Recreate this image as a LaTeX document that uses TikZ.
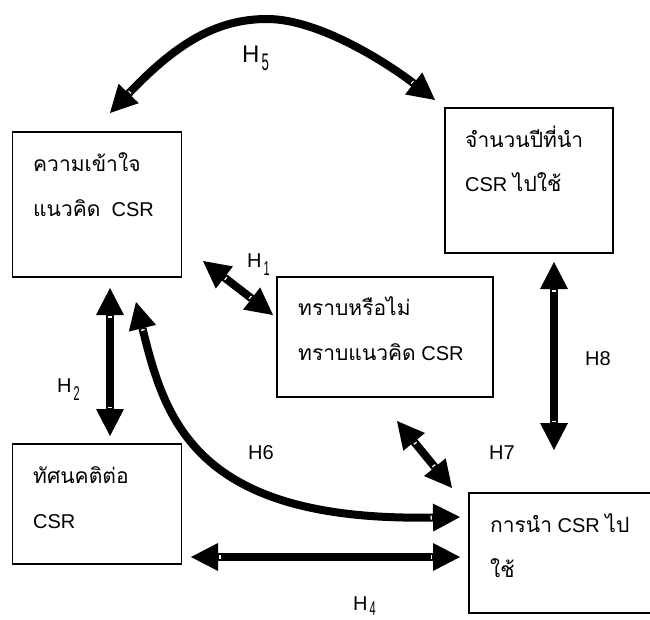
\documentclass[tikz,border=0pt]{standalone}
\usepackage{fontspec}
\usepackage{graphicx}
\setmainfont{Liberation Sans}
\newfontfamily\thaifont[Script=Thai,Scale=1.05]{Loma}
\usetikzlibrary{arrows.meta}
\newcommand\thaitxt[1]{{\thaifont #1}}
\newcommand\Hsub[3][8pt]{H\kern2pt\raisebox{-#1}{\scalebox{0.55}[1]{#3}}}
\tikzset{
  box/.style={draw, line width=1.5pt, inner sep=0pt},
  txt/.style={anchor=base west, inner sep=0pt, font=\fontsize{20}{24}\selectfont},
  hlab/.style={anchor=base west, inner sep=0pt, font=\fontsize{20}{24}\selectfont},
  arr/.style={line width=8pt,
    {Triangle[length=27pt,width=28pt,sep=0pt,line width=0pt]Rectangle[length=3.5pt,width=6pt,fill=white,sep=0pt,line width=1pt]}-{Rectangle[length=3.5pt,width=6pt,fill=white,sep=0pt,line width=1pt]Triangle[length=27pt,width=28pt,sep=0pt,line width=0pt]}},
}
\begin{document}
\begin{tikzpicture}[x=1pt,y=-1pt]
\useasboundingbox (0,0) rectangle (650,620);
% boxes
\node[box, minimum width=169pt, minimum height=145pt] (A) at (97.2,204.5) {};
\node[box, minimum width=168pt, minimum height=145pt] (B) at (529,180.5) {};
\node[box, minimum width=216pt, minimum height=120pt] (C) at (385,337) {};
\node[box, minimum width=169pt, minimum height=120pt] (D) at (97.2,504) {};
\node[box, minimum width=183pt, minimum height=120pt] (E) at (560.5,553) {};
% texts
\node[txt] (A1) at (33,172) {\thaitxt{ความเข้าใจ}};
\node[txt] (A2) at (33,217) {\thaitxt{แนวคิด}\ \ CSR};
\node[txt] (B1) at (465,148) {\thaitxt{จำนวนปีที่นำ}};
\node[txt] (B2) at (465,192) {CSR \thaitxt{ไปใช้}};
\node[txt] (C1) at (298,315) {\thaitxt{ทราบหรือไม่}};
\node[txt] (C2) at (298,360) {\thaitxt{ทราบแนวคิด} CSR};
\node[txt] (D1) at (33,483) {\thaitxt{ทัศนคติต่อ}};
\node[txt] (D2) at (33,528) {CSR};
\node[txt] (E1) at (490,532) {\thaitxt{การนำ} CSR \thaitxt{ไป}};
\node[txt] (E2) at (490,577) {\thaitxt{ใช้}};
% arrow end points
\coordinate (h5a) at (110,113);
\coordinate (h5m) at (267,19);
\coordinate (h5b) at (435,100);
\coordinate (h1a) at (203,261);
\coordinate (h1b) at (273,315);
\coordinate (h2a) at (110,288);
\coordinate (h2b) at (110,436);
\coordinate (h8a) at (554,262);
\coordinate (h8b) at (554,450);
\coordinate (h7a) at (397,421);
\coordinate (h7b) at (452,488);
\coordinate (h4a) at (191,557);
\coordinate (h4b) at (460,557);
\coordinate (h6a) at (136,302);
\coordinate (h6b) at (460,517);
% arrows
\draw[arr] (h5a) .. controls (175,45) and (215,19) .. (h5m) .. controls (320,19) and (390,65) .. (h5b);
\draw[arr] (h1a) -- (h1b);
\draw[arr] (h2a) -- (h2b);
\draw[arr] (h8a) -- (h8b);
\draw[arr] (h7a) -- (h7b);
\draw[arr] (h4a) -- (h4b);
\draw[arr] (h6a) .. controls (165,420) and (195,522) .. (h6b);
% labels
\node[hlab, font=\fontsize{24}{28}\selectfont] (L5) at (242,63) {\Hsub{H}{5}};
\node[hlab] (L1) at (247,268) {\Hsub{H}{1}};
\node[hlab] (L2) at (57,392) {\Hsub{H}{2}};
\node[hlab] (L4) at (353,610) {\Hsub[5pt]{H}{4}};
\node[hlab] (L6) at (248,459) {H6};
\node[hlab] (L7) at (489,459) {H7};
\node[hlab] (L8) at (585,365) {H8};
\end{tikzpicture}
\end{document}
